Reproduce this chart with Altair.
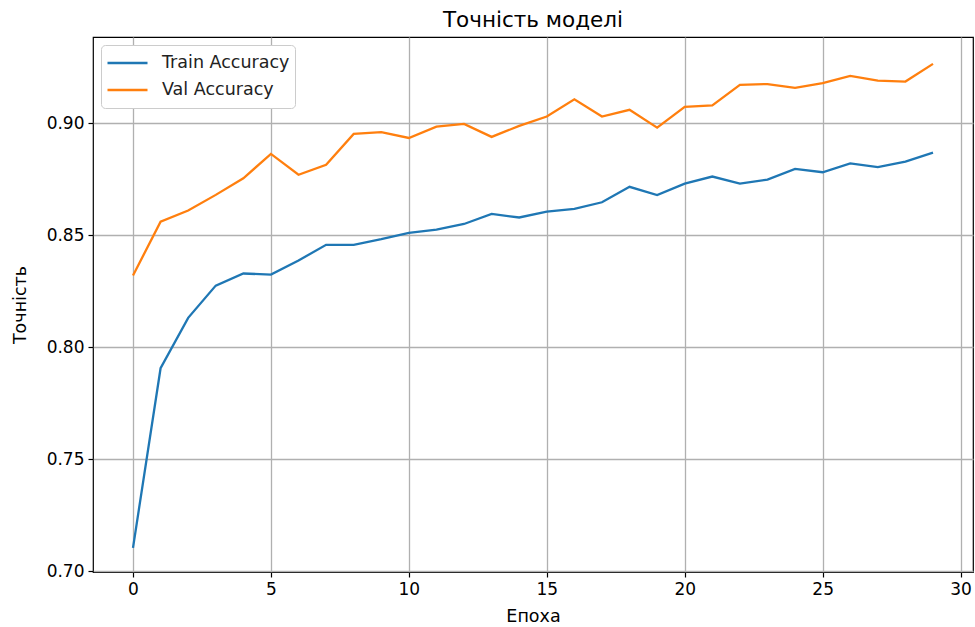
import altair as alt
import pandas as pd

epochs = list(range(30))
train_acc = [0.7104, 0.7906, 0.8131, 0.8275, 0.8329, 0.8324, 0.8387, 0.8457, 0.8457, 0.8482,
             0.8510, 0.8525, 0.8550, 0.8595, 0.8579, 0.8605, 0.8617, 0.8647, 0.8716, 0.8679,
             0.8730, 0.8762, 0.8730, 0.8748, 0.8796, 0.8781, 0.8821, 0.8804, 0.8829, 0.8869]
val_acc = [0.8320, 0.8560, 0.8610, 0.8680, 0.8754, 0.8863, 0.8770, 0.8814, 0.8952, 0.8960,
           0.8934, 0.8985, 0.8997, 0.8939, 0.8988, 0.9030, 0.9107, 0.9030, 0.9060, 0.8980,
           0.9073, 0.9080, 0.9171, 0.9175, 0.9158, 0.9179, 0.9211, 0.9190, 0.9186, 0.9265]
series_names = ["Train Accuracy", "Val Accuracy"]
series_colors = ["#1f77b4", "#ff7f0e"]

df = pd.DataFrame({
    "epoch": epochs * 2,
    "acc": train_acc + val_acc,
    "series": [series_names[0]] * len(epochs) + [series_names[1]] * len(epochs),
})

font = "DejaVu Sans"

chart = alt.Chart(df).mark_line(strokeWidth=2.3).encode(
    x=alt.X("epoch:Q",
            scale=alt.Scale(domain=[-1.45, 30.45], nice=False, zero=False),
            axis=alt.Axis(title="Епоха", values=[0, 5, 10, 15, 20, 25, 30], format="d",
                          titlePadding=10)),
    y=alt.Y("acc:Q",
            scale=alt.Scale(domain=[0.6996, 0.9385], nice=False, zero=False),
            axis=alt.Axis(title="Точність", values=[0.70, 0.75, 0.80, 0.85, 0.90], format=".2f",
                          titlePadding=17)),
    color=alt.Color("series:N",
                    scale=alt.Scale(domain=series_names, range=series_colors),
                    legend=alt.Legend(title=None, orient="top-left", offset=8,
                                      symbolType="stroke", symbolSize=1600, symbolStrokeWidth=2.5,
                                      labelFontSize=17.5, labelFont=font, labelColor="#222222",
                                      labelOffset=13, clipHeight=26, rowPadding=1, padding=5,
                                      strokeColor="#cccccc", cornerRadius=4, fillColor="white")),
).properties(
    width=880,
    height=535,
    title=alt.TitleParams("Точність моделі", font=font, fontSize=21.5, fontWeight="normal",
                          color="black", offset=6),
    padding={"left": 93, "top": 37, "right": 2, "bottom": 55},
    autosize=alt.AutoSizeParams(type="none"),
).configure_view(
    stroke="black", strokeWidth=1.2
).configure_axis(
    labelFont=font, labelFontSize=17, labelColor="black",
    titleFont=font, titleFontSize=17.5, titleFontWeight="normal", titleColor="black",
    grid=True, gridColor="#b0b0b0", gridWidth=1.3,
    domain=False, tickColor="black", tickSize=5, tickWidth=1.2, labelPadding=4,
)

chart.save("out.html", embed_options={"renderer": "svg", "actions": False})
